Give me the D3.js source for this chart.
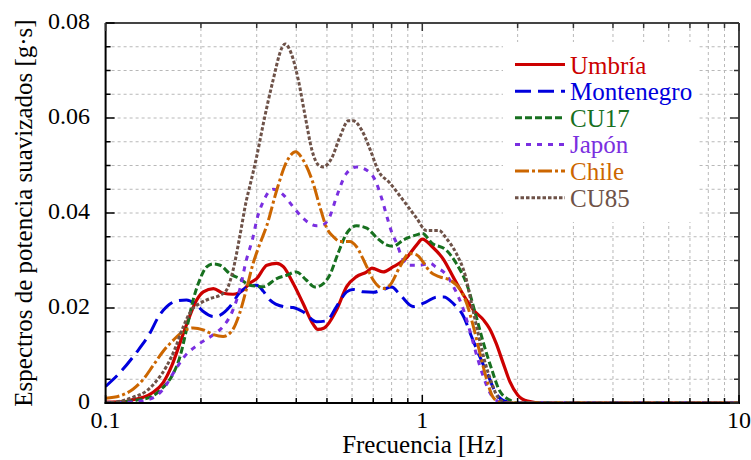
<!DOCTYPE html>
<html><head><meta charset="utf-8">
<script src="https://cdn.jsdelivr.net/npm/d3@7/dist/d3.min.js"></script>
<style>body{margin:0;background:#fff}svg{display:block}</style>
</head><body>
<svg id="c" width="751" height="460" font-family="'Liberation Serif', 'Times New Roman', serif"></svg>
<script>
const seriesNames = ["Umbría","Montenegro","CU17","Japón","Chile","CU85"];
const seriesColors = ["#cc0000","#0000dd","#17701f","#7a2fe0","#cc6600","#6e5248"];
const seriesDash = [null,"16,7","7,3","5,6","14,3,3,3","3.5,2"];
const seriesWidth = [3.2,3,3,3,3,3];

const umbria = [[0.1,0.0002],[0.115,0.0003],[0.122,0.0007],[0.1316,0.0012],[0.141,0.0022],[0.152,0.0043],[0.1617,0.0078],[0.1717,0.0126],[0.1824,0.0175],[0.194,0.0217],[0.2035,0.0234],[0.219,0.0241],[0.235,0.0231],[0.2525,0.0229],[0.272,0.0238],[0.285,0.0252],[0.3,0.0262],[0.323,0.029],[0.347,0.0294],[0.364,0.0287],[0.391,0.0252],[0.42,0.021],[0.452,0.0166],[0.468,0.0155],[0.49,0.0158],[0.536,0.0196],[0.577,0.0245],[0.62,0.0266],[0.668,0.0276],[0.693,0.0284],[0.752,0.0276],[0.81,0.0287],[0.89,0.0305],[0.96,0.0333],[1.0,0.0345],[1.075,0.0329],[1.17,0.0301],[1.25,0.0266],[1.35,0.0227],[1.45,0.0196],[1.56,0.0175],[1.63,0.0157],[1.71,0.0126],[1.8,0.0084],[1.89,0.0045],[2.0,0.0017],[2.15,0.0004],[2.4,0],[10,0]];
const montenegro = [[0.1,0.0035],[0.111,0.0064],[0.125,0.0106],[0.138,0.0147],[0.147,0.0182],[0.156,0.0203],[0.168,0.0215],[0.18,0.0217],[0.194,0.0206],[0.204,0.0192],[0.219,0.0182],[0.23,0.0185],[0.247,0.0203],[0.265,0.0232],[0.285,0.0246],[0.3,0.0248],[0.315,0.0235],[0.33,0.0217],[0.364,0.0203],[0.391,0.0201],[0.42,0.0192],[0.464,0.0171],[0.498,0.0173],[0.536,0.0203],[0.577,0.0234],[0.605,0.0239],[0.65,0.0234],[0.7,0.0233],[0.752,0.0239],[0.8,0.0244],[0.853,0.0227],[0.935,0.0203],[1.03,0.0213],[1.11,0.0223],[1.17,0.0223],[1.25,0.021],[1.35,0.0182],[1.43,0.014],[1.52,0.0097],[1.62,0.0055],[1.71,0.002],[1.84,0.0003],[2.0,0],[10,0]];
const cu17 = [[0.1,0],[0.125,0.0006],[0.138,0.0012],[0.152,0.0033],[0.162,0.0057],[0.172,0.0099],[0.18,0.0154],[0.189,0.0217],[0.199,0.0262],[0.208,0.0286],[0.219,0.0293],[0.23,0.029],[0.247,0.0272],[0.265,0.0262],[0.285,0.0248],[0.315,0.0245],[0.347,0.0262],[0.373,0.0269],[0.4,0.0276],[0.43,0.0259],[0.458,0.0244],[0.488,0.0252],[0.51,0.0269],[0.542,0.0315],[0.577,0.0357],[0.62,0.0373],[0.668,0.0368],[0.72,0.0347],[0.77,0.0333],[0.81,0.033],[0.87,0.0343],[0.96,0.0354],[1.0,0.0357],[1.075,0.0336],[1.19,0.0322],[1.28,0.0294],[1.39,0.0245],[1.47,0.0189],[1.56,0.0126],[1.66,0.0069],[1.75,0.0027],[1.89,0.0006],[2.0,0],[10,0]];
const japon = [[0.1,0],[0.125,0.0003],[0.138,0.0008],[0.152,0.0029],[0.164,0.0064],[0.176,0.0095],[0.199,0.0126],[0.219,0.0144],[0.235,0.0161],[0.2525,0.0196],[0.265,0.0238],[0.278,0.03],[0.292,0.0349],[0.3,0.0385],[0.315,0.0425],[0.338,0.045],[0.364,0.0438],[0.391,0.0413],[0.42,0.0389],[0.464,0.0373],[0.486,0.0375],[0.51,0.0392],[0.536,0.0434],[0.577,0.0484],[0.62,0.0497],[0.668,0.049],[0.71,0.0469],[0.745,0.043],[0.775,0.039],[0.8,0.036],[0.83,0.0336],[0.87,0.0301],[0.91,0.029],[0.98,0.029],[1.06,0.0294],[1.1,0.0287],[1.19,0.027],[1.27,0.0238],[1.35,0.0196],[1.42,0.0147],[1.49,0.0097],[1.56,0.0055],[1.64,0.002],[1.71,0.0006],[1.8,0],[10,0]];
const chile = [[0.1,0.001],[0.111,0.0015],[0.122,0.0029],[0.1316,0.005],[0.141,0.0078],[0.152,0.0109],[0.164,0.0133],[0.176,0.0151],[0.189,0.0158],[0.2035,0.0154],[0.219,0.0144],[0.235,0.014],[0.25,0.0151],[0.265,0.0189],[0.278,0.0238],[0.292,0.0293],[0.307,0.0335],[0.323,0.0374],[0.347,0.0448],[0.373,0.0508],[0.398,0.0529],[0.42,0.0512],[0.452,0.0463],[0.475,0.0413],[0.498,0.037],[0.524,0.035],[0.55,0.034],[0.59,0.034],[0.62,0.0329],[0.66,0.0294],[0.7,0.0259],[0.752,0.0241],[0.79,0.0248],[0.85,0.0287],[0.91,0.0315],[0.96,0.0312],[1.0,0.0299],[1.06,0.0276],[1.13,0.0266],[1.22,0.0259],[1.32,0.0238],[1.38,0.021],[1.45,0.0161],[1.52,0.0105],[1.6,0.0048],[1.67,0.0013],[1.78,0],[10,0]];
const cu85 = [[0.1,0],[0.11,0.0003],[0.122,0.0012],[0.135,0.0026],[0.145,0.0047],[0.156,0.0078],[0.166,0.0116],[0.176,0.0161],[0.187,0.0196],[0.199,0.021],[0.214,0.022],[0.23,0.0227],[0.241,0.0238],[0.2525,0.0279],[0.265,0.0349],[0.278,0.0425],[0.285,0.0455],[0.3,0.0519],[0.315,0.0589],[0.338,0.068],[0.36,0.0747],[0.369,0.0756],[0.387,0.0733],[0.406,0.068],[0.427,0.0603],[0.448,0.0533],[0.47,0.0501],[0.486,0.0497],[0.517,0.0515],[0.55,0.0561],[0.584,0.0594],[0.605,0.0594],[0.643,0.0575],[0.685,0.0533],[0.725,0.049],[0.79,0.0463],[0.87,0.0427],[0.96,0.0389],[1.03,0.0363],[1.13,0.0363],[1.19,0.0347],[1.28,0.0315],[1.37,0.0266],[1.43,0.021],[1.5,0.0147],[1.57,0.0091],[1.65,0.0045],[1.73,0.0013],[1.85,0],[10,0]];
const seriesData = [umbria, montenegro, cu17, japon, chile, cu85];

const xMajor = [0.1, 1, 10];
const xMajorLabels = ["0.1","1","10"];
const yMajor = [0, 0.02, 0.04, 0.06, 0.08];
const yMajorLabels = ["0","0.02","0.04","0.06","0.08"];
const xTitle = "Frecuencia [Hz]";
const yTitle = "Espectros de potencia suavizados [g·s]";

const FONT = "'Liberation Serif', 'Times New Roman', serif";
const W = 751, H = 460;
const m = {left:105.6, right:12, top:23, bottom:57};
const x = d3.scaleLog().domain([0.1,10]).range([m.left, W - m.right]);
const y = d3.scaleLinear().domain([0,0.08]).range([H - m.bottom, m.top]);
const svg = d3.select("#c");

// grid
const xMinor = [];
[0.1,1].forEach(d => { for (let k=2;k<=9;k++) xMinor.push(d*k); });
const xGrid = xMinor.concat([1]);
const yMinor = d3.range(1,16).map(i => i*0.005);
const g = svg.append("g");
g.selectAll(".vg").data(xGrid).join("line")
  .attr("x1", d=>x(d)).attr("x2", d=>x(d)).attr("y1", y(0)).attr("y2", y(0.08))
  .attr("stroke","#b8b8b8").attr("stroke-width",1).attr("stroke-dasharray","3,3");
g.selectAll(".hg").data(yMinor).join("line")
  .attr("x1", x(0.1)).attr("x2", x(10)).attr("y1", d=>y(d)).attr("y2", d=>y(d))
  .attr("stroke","#b8b8b8").attr("stroke-width",1).attr("stroke-dasharray","3,3");

// clip
svg.append("clipPath").attr("id","pc").append("rect")
  .attr("x", x(0.1)).attr("y", y(0.08)-2).attr("width", x(10)-x(0.1)).attr("height", y(0)-y(0.08)+2);

const line = d3.line().x(d=>x(d[0])).y(d=>y(d[1])).curve(d3.curveMonotoneX);
const lg = svg.append("g").attr("clip-path","url(#pc)");
seriesData.forEach((s,i) => {
  lg.append("path").attr("d", line(s)).attr("fill","none")
    .attr("stroke", seriesColors[i]).attr("stroke-width", seriesWidth[i])
    .attr("stroke-dasharray", seriesDash[i]).attr("stroke-linejoin","round");
});

// frame
const fr = svg.append("g");
fr.append("line").attr("x1",x(0.1)).attr("x2",x(10)).attr("y1",y(0.08)).attr("y2",y(0.08)).attr("stroke","#444").attr("stroke-width",2);
fr.append("line").attr("x1",x(10)).attr("x2",x(10)).attr("y1",y(0)).attr("y2",y(0.08)).attr("stroke","#444").attr("stroke-width",2);
fr.append("line").attr("x1",x(0.1)).attr("x2",x(0.1)).attr("y1",y(0)+1).attr("y2",y(0.08)).attr("stroke","#000").attr("stroke-width",2);
fr.append("line").attr("x1",x(0.1)-1).attr("x2",x(10)+1).attr("y1",y(0)).attr("y2",y(0)).attr("stroke","#000").attr("stroke-width",2);

// ticks
const yAllTicks = d3.range(0,17).map(i=>i*0.005);
yAllTicks.forEach((d,i) => {
  const len = (i%4===0)?9:5;
  fr.append("line").attr("x1",x(0.1)).attr("x2",x(0.1)+len).attr("y1",y(d)).attr("y2",y(d)).attr("stroke","#000").attr("stroke-width",1.5);
  fr.append("line").attr("x1",x(10)).attr("x2",x(10)-len).attr("y1",y(d)).attr("y2",y(d)).attr("stroke","#333").attr("stroke-width",1.5);
});
const xAllTicks = xMinor.concat(xMajor);
xAllTicks.forEach(d => {
  const len = xMajor.includes(d)?8:5;
  fr.append("line").attr("x1",x(d)).attr("x2",x(d)).attr("y1",y(0)).attr("y2",y(0)-len).attr("stroke","#000").attr("stroke-width",1.5);
  fr.append("line").attr("x1",x(d)).attr("x2",x(d)).attr("y1",y(0.08)).attr("y2",y(0.08)+len).attr("stroke","#333").attr("stroke-width",1.5);
});

// tick labels
svg.selectAll(".yl").data(yMajor).join("text")
  .attr("x", 90).attr("y", d=>y(d)+6).attr("text-anchor","end").attr("font-family",FONT)
  .attr("font-size",24).attr("fill","#000").text((d,i)=>yMajorLabels[i]);
svg.selectAll(".xl").data(xMajor).join("text")
  .attr("x", d=>x(d)).attr("y", 428).attr("text-anchor","middle").attr("font-family",FONT)
  .attr("font-size",24).attr("fill","#000").text((d,i)=>xMajorLabels[i]);

// titles
svg.append("text").attr("x", 423).attr("y", 453).attr("text-anchor","middle").attr("font-family",FONT)
  .attr("font-size",25).attr("fill","#000").text(xTitle);
svg.append("text").attr("transform","translate(32,213) rotate(-90)").attr("text-anchor","middle").attr("font-family",FONT)
  .attr("font-size",25).attr("fill","#000").text(yTitle);

// legend
const leg = svg.append("g");
leg.append("rect").attr("x",503).attr("y",42).attr("width",195).attr("height",180).attr("fill","#fff");
seriesNames.forEach((n,i) => {
  const by = 73.5 + i*26.65;
  leg.append("line").attr("x1",515).attr("x2",565).attr("y1",by-9).attr("y2",by-9)
    .attr("stroke",seriesColors[i]).attr("stroke-width",seriesWidth[i]).attr("stroke-dasharray",seriesDash[i]);
  leg.append("text").attr("x",570).attr("y",by).attr("font-family",FONT).attr("font-size",25).attr("fill",seriesColors[i]).text(n);
});
</script>
</body></html>
